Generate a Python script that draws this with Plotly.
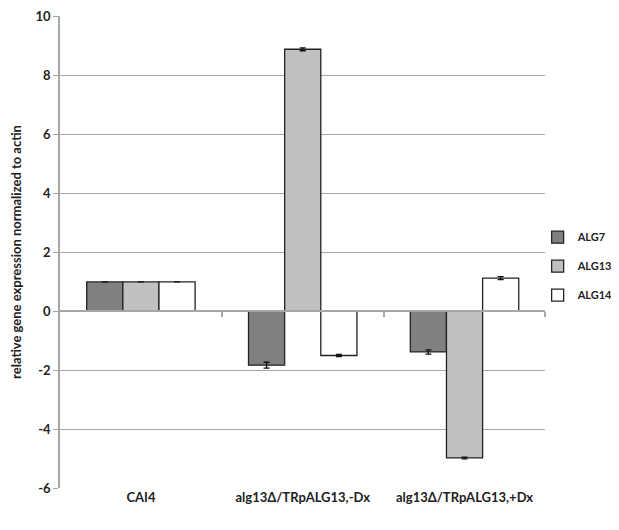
import plotly.graph_objects as go

categories = ["CAI4", "alg13Δ/TRpALG13,-Dx", "alg13Δ/TRpALG13,+Dx"]
series_names = ["ALG7", "ALG13", "ALG14"]
alg7 = [1.0, -1.83, -1.38]
alg13 = [1.0, 8.9, -4.98]
alg14 = [1.0, -1.5, 1.13]
alg7_err = [None, 0.1, 0.07]
alg13_err = [None, 0.05, 0.03]
alg14_err = [None, 0.04, 0.05]
y_ticks = [-6, -4, -2, 0, 2, 4, 6, 8, 10]

colors = ["#808080", "#C0C0C0", "#FFFFFF"]
values = [alg7, alg13, alg14]
errs = [alg7_err, alg13_err, alg14_err]

FONT = "Lato"
fig = go.Figure()
x_idx = list(range(len(categories)))
for name, v, e, c in zip(series_names, values, errs, colors):
    fig.add_trace(go.Bar(
        x=x_idx, y=v, name="<b>" + name + "</b>", legendgroup=name,
        marker=dict(color=c, line=dict(color="#222222", width=1.3)),
        error_y=dict(type="data", array=[float("nan") if a is None else a for a in e],
                     visible=True, color="#111111", thickness=1.3, width=3),
    ))

fig.add_trace(go.Scatter(x=[-0.5, 2.5], y=[0, 0], xaxis="x2", yaxis="y",
                         mode="lines", line=dict(width=0), showlegend=False,
                         hoverinfo="skip"))

W, H = 611, 522
L, T, B = 52, 8, 42
PW = W - L
DOM = 497 / PW
fig.update_layout(
    width=W, height=H,
    margin=dict(l=L, r=0, t=T, b=B),
    paper_bgcolor="white", plot_bgcolor="white",
    barmode="group", bargap=0.33, bargroupgap=0,
    font=dict(family=FONT, color="#222222", size=12),
    xaxis=dict(
        domain=[0, DOM], automargin=False,
        range=[-0.5, 2.5], tickmode="array", tickvals=x_idx,
        ticktext=["<b>" + c + "</b>" for c in categories],
        showgrid=False, zeroline=False, showline=False, ticks="",
        tickfont=dict(family=FONT, size=13, color="#222222"),
    ),
    xaxis2=dict(
        domain=[0, DOM],
        range=[-0.5, 2.5], overlaying="x", anchor="free", position=0.375,
        side="bottom", showline=True, linecolor="#A6A6A6", linewidth=1.5,
        ticks="outside", ticklen=5, tickcolor="#A6A6A6", tickwidth=1.5,
        tickmode="array", tickvals=[0.5, 1.5, 2.5], showticklabels=False,
        showgrid=False, zeroline=False,
    ),
    yaxis=dict(
        automargin=False, ticklabeloverflow="allow",
        range=[-6, 10.03], tickmode="array", tickvals=y_ticks,
        ticktext=["<b>%d</b>" % t for t in y_ticks],
        showgrid=True, gridcolor="#A6A6A6", gridwidth=1.2,
        zeroline=False, showline=True, linecolor="#A6A6A6", linewidth=1.5,
        ticks="outside", ticklen=5, tickcolor="#A6A6A6",
        tickfont=dict(family=FONT, size=13, color="#222222"),
        title=dict(text="<b>relative gene expression normalized to actin</b>",
                   font=dict(family=FONT, size=13, color="#222222"), standoff=12),
    ),
    legend=dict(x=(541 - L) / PW, y=0.47, xanchor="left", yanchor="middle",
                font=dict(family=FONT, size=11, color="#222222"),
                tracegroupgap=10, itemwidth=30, bgcolor="rgba(0,0,0,0)"),
)

fig.write_html("out.html")
